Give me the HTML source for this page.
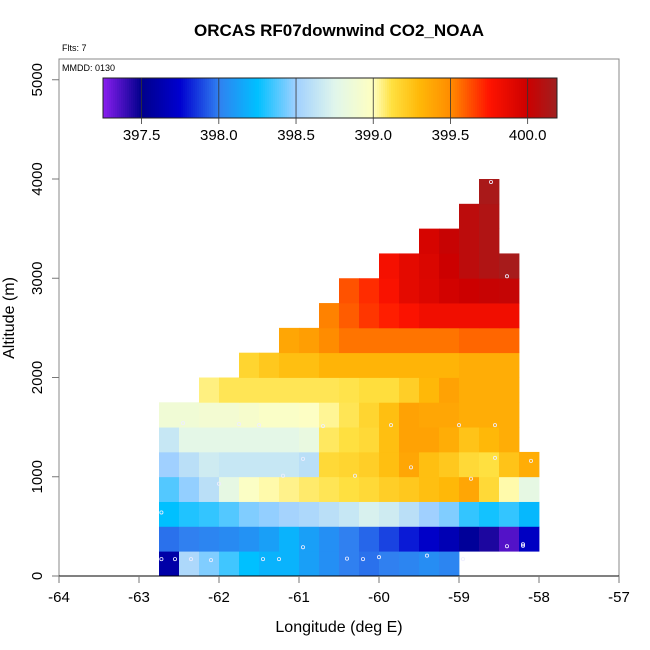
<!DOCTYPE html>
<html><head><meta charset="utf-8"><style>
body{margin:0;background:#fff;}
svg{display:block;font-family:"Liberation Sans",sans-serif;}
</style></head><body>
<svg id="chart" width="650" height="650" viewBox="0 0 650 650">
<rect x="0" y="0" width="650" height="650" fill="#fff"/>
<text x="339" y="36" text-anchor="middle" font-size="17" font-weight="bold">ORCAS RF07downwind CO2_NOAA</text>
<text x="62" y="51" font-size="9">Flts: 7</text>
<g id="cells"></g>
<g id="pts"></g>
<rect x="59" y="59" width="560" height="517" fill="none" stroke="#888" stroke-width="1"/>
<text x="62" y="71" font-size="9">MMDD: 0130</text>
<g id="axes"></g>
<g id="cbar"></g>
<text x="339" y="632" text-anchor="middle" font-size="16">Longitude (deg E)</text>
<text transform="translate(14,318) rotate(-90)" text-anchor="middle" font-size="16">Altitude (m)</text>
</svg>
<script>
const lonStart = -62.75, dLon = 0.25, dAlt = 250;
const rowStarts = [0,0,0,0,0,0,0,2,4,6,8,9,11,13,15,16];
const rowValues = [
 [397.6,398.55,398.45,398.35,398.25,398.2,398.2,398.12,398.06,398.0,397.97,398.0,398.02,398.05,398.02],
 [397.97,398.0,398.02,398.04,398.07,398.12,398.2,398.12,398.06,398.0,397.95,397.88,397.8,397.72,397.65,397.55,397.45,397.35,397.7],
 [398.25,398.3,398.33,398.38,398.45,398.48,398.52,398.55,398.6,398.65,398.72,398.68,398.6,398.5,398.45,398.33,398.28,398.33,398.22],
 [398.38,398.48,398.6,398.8,398.97,399.02,399.05,399.08,399.1,399.12,399.15,399.2,399.23,399.27,399.3,399.38,399.15,399.02,398.8],
 [398.5,398.6,398.68,398.65,398.65,398.65,398.65,398.6,399.15,399.17,399.2,399.27,399.38,399.27,399.23,399.15,399.12,399.25,399.35],
 [398.65,398.78,398.78,398.78,398.78,398.78,398.78,398.82,399.09,399.12,399.15,399.27,399.4,399.4,399.35,399.25,399.3,399.35],
 [398.88,398.88,398.9,398.9,398.93,398.96,398.96,398.98,399.04,399.1,399.17,399.27,399.4,399.38,399.38,399.35,399.35,399.35],
 [399.06,399.1,399.1,399.1,399.1,399.1,399.1,399.11,399.13,399.13,399.2,399.3,399.4,399.35,399.35,399.35],
 [399.17,399.23,399.27,399.27,399.32,399.32,399.32,399.32,399.32,399.32,399.32,399.35,399.35,399.35],
 [399.38,399.42,399.5,399.55,399.55,399.55,399.55,399.55,399.55,399.58,399.58,399.58],
 [399.52,399.6,399.68,399.73,399.77,399.82,399.82,399.82,399.82,399.82],
 [399.62,399.7,399.78,399.88,399.92,399.97,400.0,400.02,400.03],
 [399.8,399.88,399.93,400.0,400.07,400.12,400.16],
 [399.95,400.02,400.07,400.12],
 [400.07,400.12],
 [400.15]
];
const ptLon = [-62.72,-62.55,-62.35,-62.1,-61.45,-61.25,-60.95,-60.4,-60.2,-60.0,-59.4,-58.95,-58.4,-58.2,-58.2,-62.72,-62.0,-61.2,-60.95,-60.3,-59.6,-58.85,-58.55,-62.45,-61.75,-61.5,-60.7,-59.85,-59.0,-58.55,-58.1,-58.4,-58.6];
const ptAlt = [170,170,170,160,170,170,290,175,170,190,205,170,300,305,320,640,930,1010,1180,1010,1095,980,1190,1540,1530,1520,1510,1520,1520,1520,1160,3020,3970];
const xTicks = [-64,-63,-62,-61,-60,-59,-58,-57];
const yTicks = [0,1000,2000,3000,4000,5000];
const cbTicks = [397.5,398.0,398.5,399.0,399.5,400.0];
const cbMin = 397.25, cbMax = 400.19;
const stopVals = [397.25,397.5,397.75,398.0,398.25,398.5,398.75,399.0,399.12,399.3,399.5,399.75,400.0,400.19];
const stopCols = ['#8a1ef0','#00008b','#0000d0','#3080f0','#00c0ff','#a0d0ff','#e0f6ec','#ffffc0','#ffe040','#ffb808','#ff8c00','#ff1400','#cc0000','#a02020'];

const X = lon => 59 + (lon + 64) * 80;
const Y = alt => 576 - alt * 0.09925;
const NS = 'http://www.w3.org/2000/svg';
function hex(c){return [1,3,5].map(i=>parseInt(c.substr(i,2),16));}
function color(v){
  if (v <= stopVals[0]) return stopCols[0];
  for (let i=1;i<stopVals.length;i++){
    if (v <= stopVals[i]){
      const t=(v-stopVals[i-1])/(stopVals[i]-stopVals[i-1]);
      const a=hex(stopCols[i-1]), b=hex(stopCols[i]);
      return 'rgb('+a.map((q,k)=>Math.round(q+(b[k]-q)*t)).join(',')+')';
    }
  }
  return stopCols[stopCols.length-1];
}
function mk(tag, attrs, parent){const e=document.createElementNS(NS,tag);for(const k in attrs)e.setAttribute(k,attrs[k]);parent.appendChild(e);return e;}

const cells = document.getElementById('cells');
rowValues.forEach((row, r) => {
  row.forEach((v, j) => {
    const c = rowStarts[r] + j;
    const x0 = X(lonStart + c*dLon), x1 = X(lonStart + (c+1)*dLon);
    const y0 = Y((r+1)*dAlt), y1 = Y(r*dAlt);
    const e = mk('rect',{x:x0,y:y0,width:x1-x0+0.4,height:y1-y0+0.4,fill:color(v)},cells);
    
    
  });
});
const pts = document.getElementById('pts');
ptLon.forEach((lon,i)=>{
  const e = mk('circle',{cx:X(lon),cy:Y(ptAlt[i]),r:1.6,fill:'none',stroke:'#eef',"stroke-width":0.8},pts);
  
  
});

const axes = document.getElementById('axes');
let e = mk('line',{x1:59,y1:576,x2:619,y2:576,stroke:'#000',"stroke-width":1},axes);


xTicks.forEach(t=>{
  const l = mk('line',{x1:X(t),y1:576,x2:X(t),y2:583,stroke:'#777'},axes);
  
  
  const tx = mk('text',{x:X(t),y:602,"text-anchor":"middle","font-size":15},axes);
  tx.textContent = String(t);
  
  
});
yTicks.forEach(t=>{
  const l = mk('line',{x1:52,y1:Y(t),x2:59,y2:Y(t),stroke:'#777'},axes);
  
  
  const tx = mk('text',{transform:'translate(42,'+Y(t)+') rotate(-90)',"text-anchor":"middle","font-size":15},axes);
  tx.textContent = String(t);
  
  
});

const cb = document.getElementById('cbar');
const CX = v => 103 + (v - cbMin)/(cbMax-cbMin)*454;
for (let i=0;i<227;i++){
  const v = cbMin + (i+0.5)/227*(cbMax-cbMin);
  const r = mk('rect',{x:103+i*2,y:78,width:2.3,height:40,fill:color(v)},cb);
  
  
}
e = mk('rect',{x:103,y:78,width:454,height:40,fill:'none',stroke:'#222',"stroke-width":1},cb);


cbTicks.forEach(t=>{
  const l = mk('line',{x1:CX(t),y1:78,x2:CX(t),y2:124,stroke:'#333',"stroke-width":0.8},cb);
  
  
  const tx = mk('text',{x:CX(t),y:140,"text-anchor":"middle","font-size":15},cb);
  tx.textContent = t.toFixed(1);
  
  
});
</script>
</body></html>
